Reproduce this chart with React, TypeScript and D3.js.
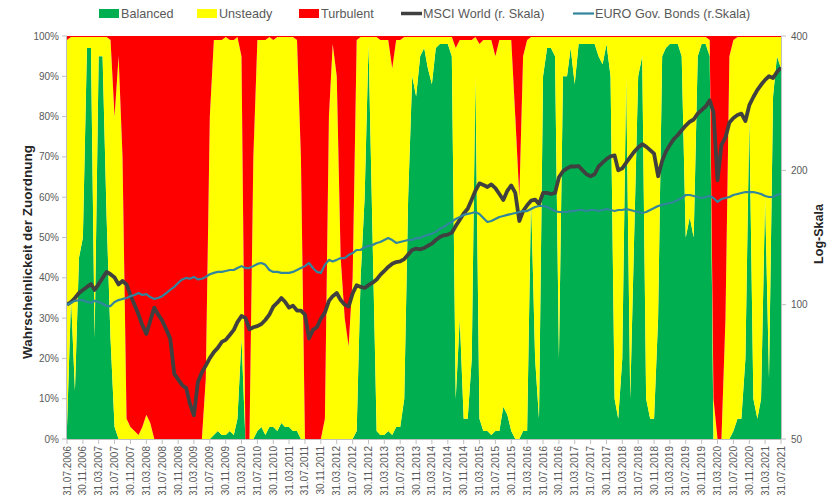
import React from "react";
import * as d3 from "d3";

// Monthly series from 31.07.2006 to 31.07.2021 (month-end values)
const START_YEAR = 2006;
const START_MONTH = 6; // July, 0-based

// Regime probabilities in percent (Unsteady = remainder)
const balanced = [
  3, 35, 12, 45, 50, 97, 97, 25, 95, 95, 55, 25,
  3, 0, 0, 0, 0, 0, 0, 0, 0, 0, 0, 0,
  0, 0, 0, 0, 0, 0, 0, 0, 0, 0, 0, 0,
  0, 1, 2, 1, 1, 2, 1, 5, 25, 0, 0, 0,
  2, 3, 1, 3, 3, 2, 4, 3, 3, 2, 2, 0,
  0, 0, 0, 0, 0, 0, 0, 0, 0, 0, 0, 0,
  0, 2, 40, 60, 98, 50, 2, 1, 1, 2, 1, 3,
  3, 10, 60, 90, 85, 95, 97, 92, 88, 97, 98, 98,
  98, 95, 10, 30, 5, 5, 20, 90, 5, 2, 2, 1,
  2, 2, 8, 6, 2, 0, 0, 2, 2, 60, 20, 5,
  90, 97, 97, 95, 20, 90, 90, 97, 88, 98, 98, 98,
  98, 98, 95, 93, 98, 90, 10, 5, 20, 90, 10, 50,
  90, 95, 10, 5, 5, 30, 95, 97, 98, 98, 98, 95,
  50, 55, 50, 95, 98, 98, 95, 0, 0, 0, 0, 0,
  2, 5, 5, 20, 80, 10, 5, 10, 60, 15, 85, 95,
  92,
];

const turbulent = [
  1, 0.25, 0.25, 0.25, 0.25, 0.25, 0.25, 0.25, 0.25, 0.25, 0.25, 1,
  20, 5, 30, 95, 97, 98, 99, 97, 94, 96, 100, 100,
  100, 100, 100, 100, 100, 100, 100, 100, 100, 100, 100, 85,
  20, 1, 1, 1, 0.25, 1, 1, 0.25, 5, 100, 100, 30,
  1, 1, 1, 0.25, 1, 0.25, 0.25, 0.25, 0.25, 0.25, 1, 30,
  100, 100, 100, 100, 100, 95, 20, 2, 10, 55, 70, 77,
  60, 1, 0.25, 0.25, 0.25, 0.25, 0.25, 1, 1, 1, 8, 1,
  1, 0.25, 0.25, 0.25, 0.25, 0.25, 0.25, 0.25, 0.25, 0.25, 0.25, 0.25,
  0.25, 0.25, 3, 1, 1, 1, 1, 0.25, 2, 1, 1, 1,
  5, 1, 1, 1, 1, 20, 40, 5, 1, 0.25, 0.25, 0.25,
  0.25, 0.25, 0.25, 0.25, 0.25, 0.25, 0.25, 0.25, 0.25, 0.25, 0.25, 0.25,
  0.25, 0.25, 0.25, 0.25, 0.25, 0.25, 0.25, 0.25, 0.25, 0.25, 0.25, 0.25,
  0.25, 0.25, 0.25, 0.25, 0.25, 0.25, 0.25, 0.25, 0.25, 0.25, 0.25, 0.25,
  0.25, 0.25, 0.25, 0.25, 0.25, 0.25, 1, 90, 100, 100, 70, 5,
  1, 0.25, 0.25, 0.25, 0.25, 0.25, 0.25, 0.25, 0.25, 0.25, 0.25, 0.25,
  0.25,
];

// Index levels (start = 100), right log axis
const msciWorld = [
  100, 101.4, 103.5, 106.2, 107.9, 109.6, 111.2, 107.9, 111.2, 114.8, 118.4, 117,
  115, 111, 113, 111, 105, 100, 95, 90, 86, 92, 98.5, 95,
  92, 88, 84, 70, 68, 66, 65, 60, 56.5, 67, 70.5, 73,
  75.9, 78.3, 80, 82.5, 83.4, 85.5, 87.8, 91.4, 94.3, 93.4, 88, 89,
  89.5, 90.5, 92.4, 95, 99, 101, 103.5, 101.5, 98.5, 99.5, 97, 97,
  95, 84, 87.8, 89, 93, 96, 102, 104.5, 106.2, 102.4, 100, 99,
  106, 110.6, 109.6, 109, 110.6, 112, 113.9, 116.6, 119, 121.5, 123.5, 124.6,
  125, 126.5, 129.5, 132.6, 133.5, 133, 134, 135.5, 137, 139.6, 141.8, 143,
  143.5, 145, 150, 155, 160, 164, 172, 180, 187, 185.5, 183.5, 186,
  182.5, 177, 171.6, 180, 185, 178, 154, 162, 167, 171, 172, 168,
  178, 178, 177, 178, 193, 199, 202, 204, 204, 204.5, 200, 196,
  194, 196, 204, 208, 212, 215, 216, 200, 202, 208, 214, 220,
  225, 229, 226, 222, 218, 194, 210, 220, 228, 235, 240, 246,
  252, 257, 260, 268, 273, 278, 287, 270, 190, 228, 237, 256,
  262, 266, 268, 258, 280, 292, 303, 311, 319, 325, 322, 332,
  340,
];

const euroGovBonds = [
  100, 101, 102, 102.4, 102.4, 101.4, 101, 102, 101.4, 100.5, 99.3, 99.3,
  101.4, 102.4, 103, 103.5, 104.5, 105.1, 106.2, 105.1, 105.6, 104, 103, 103.5,
  104.5, 106.2, 107.9, 109.6, 111.8, 113.9, 114.8, 114.3, 115.4, 113.9, 114.3, 115.4,
  117, 117.8, 118.4, 118.4, 119, 119.6, 119.6, 120.8, 122, 120.8, 120.8, 122,
  123.4, 124, 122.8, 119.6, 118.4, 118.4, 117.8, 117.8, 117.8, 118.4, 119.6, 120.8,
  122, 124, 120.8, 118.4, 117.8, 122.8, 126, 125, 126, 127.2, 127.2, 129.2,
  130.5, 132.6, 132.6, 134.6, 135.3, 136, 137.5, 138.2, 139.6, 141, 139.6, 137.5,
  138.2, 138.9, 139.6, 139.6, 141, 141, 142.6, 143.4, 144.1, 145.6, 147.9, 149.3,
  151.6, 153.2, 155.6, 157.2, 158.9, 159.7, 160.5, 161.3, 159.7, 156.4, 153.2, 154,
  155.6, 157.2, 158, 158.9, 159.7, 160.5, 161.3, 162.1, 162.1, 163.8, 165.5, 166.4,
  166.4, 165.5, 163.8, 162.1, 161.3, 161.3, 161.3, 162.1, 162.1, 163, 163, 162.1,
  163, 163, 162.1, 163, 163.8, 163, 162.1, 163, 163, 163.8, 163, 162.1,
  161.3, 160.5, 161.3, 163, 164.6, 166.4, 167.3, 168.1, 169, 169.9, 171.6, 173.4,
  176.1, 176.1, 175.2, 174.3, 173.4, 174.3, 175.2, 173.4, 169.9, 172.5, 173.4, 174.3,
  176.1, 177, 177.9, 178.8, 178.8, 178.8, 177.9, 177, 175.2, 174.3, 174.3, 176.1,
  177,
];

const percentTicks = [0, 0.1, 0.2, 0.3, 0.4, 0.5, 0.6, 0.7, 0.8, 0.9, 1];
const logTicks = [50, 100, 200, 400];
const labelEveryMonths = 4;

const legendItems = [
  { label: "Balanced", kind: "rect", color: "#00b050", x: 99 },
  { label: "Unsteady", kind: "rect", color: "#ffff00", x: 197 },
  { label: "Turbulent", kind: "rect", color: "#ff0000", x: 299 },
  { label: "MSCI World (r. Skala)", kind: "line", color: "#404040", x: 401, width: 3.5 },
  { label: "EURO Gov. Bonds (r.Skala)", kind: "line", color: "#31859c", x: 573, width: 2.2 },
];

const W = 835;
const H = 495;
const plot = { left: 67, right: 781, top: 36, bottom: 439 };
const FONT = "'Liberation Sans', Arial, sans-serif";
const AXIS_COLOR = "#bfbfbf";
const TEXT_COLOR = "#595959";

const monthEnd = (i: number) => new Date(START_YEAR, START_MONTH + i + 1, 0);

export default function App() {
  const dates = balanced.map((_, i) => monthEnd(i));

  const x = d3.scaleTime().domain([dates[0], dates[dates.length - 1]]).range([plot.left, plot.right]);
  const yPct = d3.scaleLinear().domain([0, 1]).range([plot.bottom, plot.top]);
  const yLog = d3.scaleLog().domain([50, 400]).range([plot.bottom, plot.top]);

  const rows = dates.map((date, i) => {
    const b = balanced[i] / 100;
    const t = turbulent[i] / 100;
    return { date, balanced: b, unsteady: Math.max(0, 1 - b - t), turbulent: t };
  });
  const keys = ["balanced", "unsteady", "turbulent"];
  const colors: Record<string, string> = { balanced: "#00b050", unsteady: "#ffff00", turbulent: "#ff0000" };
  const stacked = d3.stack<any>().keys(keys)(rows);

  const area = d3
    .area<any>()
    .x((d) => x(d.data.date))
    .y0((d) => yPct(d[0]))
    .y1((d) => yPct(d[1]));

  const line = (vals: number[]) =>
    d3
      .line<number>()
      .x((_, i) => x(dates[i]))
      .y((v) => yLog(v))(vals) as string;

  const labelDates = dates.filter((_, i) => i % labelEveryMonths === 0);
  const fmt = d3.timeFormat("%d.%m.%Y");

  return (
    <svg width={W} height={H} style={{ position: "absolute", left: 0, top: 0, background: "#fff" }} fontFamily={FONT}>
      <rect x={0} y={0} width={W} height={H} fill="#fff" />

      {/* regime probability areas */}
      {stacked.map((s) => (
        <path key={s.key} d={area(s) as string} fill={colors[s.key]} stroke="none" />
      ))}

      {/* index lines */}
      <path d={line(msciWorld)} fill="none" stroke="#404040" strokeWidth={3.8} strokeLinejoin="round" />
      <path d={line(euroGovBonds)} fill="none" stroke="#31859c" strokeWidth={2.2} strokeLinejoin="round" />

      {/* left axis */}
      <line x1={plot.left - 0.5} x2={plot.left - 0.5} y1={plot.top} y2={plot.bottom} stroke={AXIS_COLOR} />
      {percentTicks.map((t) => (
        <g key={t}>
          <line x1={plot.left - 5} x2={plot.left} y1={yPct(t)} y2={yPct(t)} stroke={AXIS_COLOR} />
          <text x={59} y={yPct(t)} dy="0.35em" textAnchor="end" fontSize={10} fill={TEXT_COLOR}>
            {d3.format(".0%")(t)}
          </text>
        </g>
      ))}

      {/* right axis */}
      <line x1={plot.right + 0.5} x2={plot.right + 0.5} y1={plot.top} y2={plot.bottom} stroke={AXIS_COLOR} />
      {logTicks.map((t) => (
        <g key={t}>
          <line x1={plot.right} x2={plot.right + 5} y1={yLog(t)} y2={yLog(t)} stroke={AXIS_COLOR} />
          <text x={791} y={yLog(t)} dy="0.35em" textAnchor="start" fontSize={10} fill={TEXT_COLOR}>
            {t}
          </text>
        </g>
      ))}

      {/* bottom axis */}
      <line x1={plot.left} x2={plot.right} y1={plot.bottom + 0.5} y2={plot.bottom + 0.5} stroke={AXIS_COLOR} />
      {labelDates.map((d, i) => (
        <g key={i}>
          <line x1={x(d)} x2={x(d)} y1={plot.bottom} y2={plot.bottom + 5} stroke={AXIS_COLOR} />
          <text
            transform={`translate(${x(d)},446) rotate(-90)`}
            dy="0.35em"
            textAnchor="end"
            fontSize={10}
            fill={TEXT_COLOR}
          >
            {fmt(d)}
          </text>
        </g>
      ))}

      {/* axis titles */}
      <text
        transform={`translate(27,252) rotate(-90)`}
        dy="0.35em"
        textAnchor="middle"
        fontSize={13.5}
        fontWeight="bold"
        fill="#262626"
      >
        Wahrscheinlickeit der Zuordnung
      </text>
      <text
        transform={`translate(819,234) rotate(-90)`}
        dy="0.35em"
        textAnchor="middle"
        fontSize={12.5}
        fontWeight="bold"
        fill="#262626"
      >
        Log-Skala
      </text>

      {/* legend */}
      {legendItems.map((it) => (
        <g key={it.label}>
          {it.kind === "rect" ? (
            <rect x={it.x} y={9} width={20} height={9} fill={it.color} />
          ) : (
            <line x1={it.x} x2={it.x + 21} y1={13.5} y2={13.5} stroke={it.color} strokeWidth={it.width} />
          )}
          <text x={it.x + 22} y={13.5} dy="0.35em" fontSize={12.6} fill={TEXT_COLOR}>
            {it.label}
          </text>
        </g>
      ))}
    </svg>
  );
}
